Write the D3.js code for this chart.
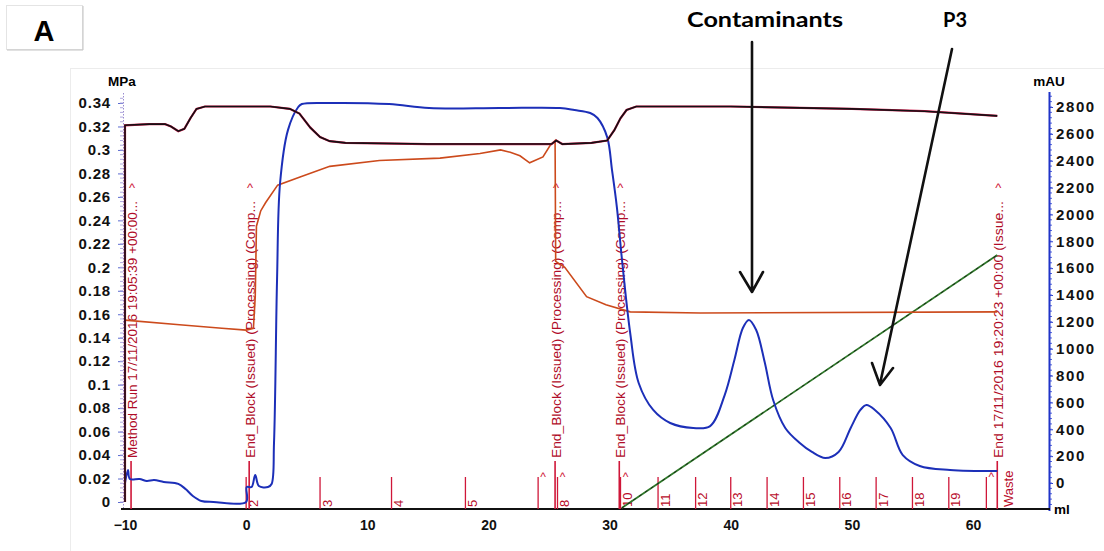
<!DOCTYPE html>
<html>
<head>
<meta charset="utf-8">
<script src="https://cdn.jsdelivr.net/npm/d3@7"></script>
<style>
  body { margin: 0; background: #fff; }
  svg { display: block; font-family: "Liberation Sans", Arial, sans-serif; }
</style>
</head>
<body>
<div id="chart"></div>
<script>
// values (ml, MPa) / (ml, mAU)
const pressure = [[-10, 0], [-10, 0.321], [-8, 0.322], [-6.7, 0.322], [-6.2, 0.320], [-5.6, 0.316],
  [-5.1, 0.318], [-4.6, 0.327], [-4.1, 0.335], [-3.4, 0.337], [0, 0.337], [2, 0.337], [3.6, 0.335],
  [4.4, 0.331], [5.3, 0.319], [6.1, 0.311], [6.9, 0.3075], [8.2, 0.306], [15, 0.305], [25.2, 0.305],
  [25.6, 0.308], [26.1, 0.305], [28.5, 0.306], [29.8, 0.308], [30.4, 0.317], [30.9, 0.327],
  [31.4, 0.334], [32.2, 0.337], [40, 0.337], [50, 0.335], [56, 0.333], [62, 0.329]];

const uv = [[-10, 0], [-9.75, 97], [-9.6, 30], [-8.8, 30], [-8.2, 15], [-7.6, 22], [-6.8, 7],
  [-5.6, -7], [-5.0, -45], [-4.4, -97], [-3.7, -134], [-2.7, -141], [0, -141], [0.05, -30],
  [0.45, -30], [0.75, 60], [1.05, -22], [1.8, -30], [2.1, -7], [2.3, 300], [2.55, 1512], [2.8, 2234],
  [3.45, 2628], [4.3, 2800], [4.6, 2822], [6.9, 2830], [11.8, 2822], [15.1, 2792], [20.9, 2792],
  [25.9, 2792], [27.1, 2777], [28.4, 2755], [29, 2718], [29.8, 2576], [30.2, 2330], [30.6, 2055],
  [31, 1683], [31.7, 1117], [32.4, 745], [33.6, 544], [35, 447], [36.9, 410], [38.3, 424],
  [39.5, 655], [40.3, 916], [41, 1154], [41.5, 1214], [42.1, 1139], [42.8, 901], [43.5, 618],
  [44.5, 410], [45.7, 298], [46.7, 231], [47.8, 186], [48.9, 231], [49.9, 410], [50.7, 544],
  [51.2, 581], [51.9, 544], [53.2, 410], [54.2, 208], [55.6, 127], [58.1, 97], [62, 89]];

// conductivity trace, drawn on the MPa scale as in the print-out
const cond = [[-10, 0.155], [-5.5, 0.151], [-2, 0.148], [0, 0.1465], [0.6, 0.148], [0.75, 0.175],
  [0.85, 0.235], [1.2, 0.248], [1.6, 0.255], [2.6, 0.270], [4.45, 0.277], [6.9, 0.286],
  [11, 0.291], [16, 0.293], [19.3, 0.297], [21, 0.300], [21.8, 0.298], [22.6, 0.295],
  [23.4, 0.289], [24.5, 0.294], [25.1, 0.304], [25.5, 0.308], [25.55, 0.205], [26.3, 0.200],
  [28.1, 0.175], [29.7, 0.168], [31.7, 0.162], [37.5, 0.161], [62, 0.162]];

// gradient line, on the mAU scale
const gradient = [[31, -186], [62, 1698]];

const fracMl = [0, 6.1, 12, 18.1, 24.1, 25.7, 30.9, 34, 37.1, 40, 43, 46, 49, 52, 55, 58, 61.1];
const fracLabels = ["2", "3", "4", "5", "", "8", "10", "11", "12", "13", "14", "15", "16", "17", "18", "19", ""];
const caretMl = [24.1, 25.7, 30.9, 61.1];

const eventMl = [-9.5, 0.25, 25.5, 30.8, 62];
const eventLabels = ["Method Run 17/11/2016 19:05:39 +00:00...",
  "End_Block (Issued) (Processing) (Comp...",
  "End_Block (Issued) (Processing) (Comp...",
  "End_Block (Issued) (Processing) (Comp...",
  "End 17/11/2016 19:20:23 +00:00 (Issue..."];

const xTicks = [-10, 0, 10, 20, 30, 40, 50, 60];
const leftTicks = [0, 0.02, 0.04, 0.06, 0.08, 0.1, 0.12, 0.14, 0.16, 0.18, 0.2, 0.22, 0.24, 0.26, 0.28, 0.3, 0.32, 0.34];
const rightTicks = [0, 200, 400, 600, 800, 1000, 1200, 1400, 1600, 1800, 2000, 2200, 2400, 2600, 2800];

// 1. svg
const width = 1104, height = 551;
const svg = d3.select("#chart").append("svg")
  .attr("width", width)
  .attr("height", height);

// faint frame of the scanned figure and the panel letter
svg.append("rect").attr("x", 70.5).attr("y", 68.5).attr("width", 1040).attr("height", 500)
  .attr("fill", "none").attr("stroke", "#ececec");
svg.append("rect").attr("x", 6.5).attr("y", 5.5).attr("width", 76).attr("height", 44)
  .attr("fill", "#fff").attr("stroke", "#e4e4e4");
svg.append("path").attr("d", "M83,6V50H7").attr("fill", "none").attr("stroke", "#c4c4c4");
svg.append("text").attr("x", 44).attr("y", 41).attr("text-anchor", "middle")
  .attr("font-size", 29).attr("font-weight", "bold").text("A");

// 2. scales
const xScale = d3.scaleLinear().domain([-10, 66.27]).range([125, 1049]);
const yL = d3.scaleLinear().domain([0, 0.34]).range([502, 103]);
const yR = d3.scaleLinear().domain([0, 2800]).range([483, 107]);
const axisY = 509;

// 3. axes
const gl = svg.append("g").attr("transform", "translate(123,0)")
  .call(d3.axisLeft(yL).tickValues(leftTicks).tickSize(5).tickPadding(7)
    .tickFormat(d => String(+d.toFixed(2))));
gl.select(".domain").remove();
gl.selectAll(".tick line").attr("stroke", "#5b6bd0");
gl.selectAll("text").attr("font-size", 15).attr("font-weight", "bold").attr("letter-spacing", 0.8).attr("fill", "#111");
svg.append("line").attr("x1", 123.5).attr("x2", 123.5).attr("y1", 93).attr("y2", axisY)
  .attr("stroke", "#9a8cd0").attr("stroke-dasharray", "1.5,1.5");
svg.append("g").selectAll("line")
  .data(d3.range(0, 0.345, 0.004))
  .enter().append("line")
  .attr("x1", 120).attr("x2", 123)
  .attr("y1", d => yL(d)).attr("y2", d => yL(d))
  .attr("stroke", "#b0a8de");

const gr = svg.append("g").attr("transform", "translate(1049,0)")
  .call(d3.axisRight(yR).tickValues(rightTicks).tickSize(4).tickPadding(3).tickFormat(d3.format("d")));
gr.select(".domain").remove();
gr.selectAll(".tick line").attr("stroke", "#2a3fcf");
gr.selectAll("text").attr("font-size", 15).attr("font-weight", "bold").attr("letter-spacing", 1.6).attr("fill", "#111");
svg.append("g").selectAll("line")
  .data(d3.range(-160, 2900, 40))
  .enter().append("line")
  .attr("x1", 1049).attr("x2", 1052)
  .attr("y1", d => yR(d)).attr("y2", d => yR(d))
  .attr("stroke", "#5566dd");
svg.append("line").attr("x1", 1049.5).attr("x2", 1049.5).attr("y1", 92).attr("y2", 511)
  .attr("stroke", "#1f33c8").attr("stroke-width", 2);

const gb = svg.append("g").attr("transform", `translate(0,${axisY})`)
  .call(d3.axisBottom(xScale).tickValues(xTicks).tickSize(0).tickPadding(11));
gb.select(".domain").remove();
gb.selectAll("text").attr("font-size", 14).attr("font-weight", "bold").attr("fill", "#111");
svg.append("line").attr("x1", 121).attr("x2", 1050).attr("y1", axisY).attr("y2", axisY)
  .attr("stroke", "#111").attr("stroke-width", 2.2);

svg.append("text").attr("x", 122).attr("y", 86).attr("text-anchor", "middle")
  .attr("font-size", 13.5).attr("font-weight", "bold").text("MPa");
svg.append("text").attr("x", 1049).attr("y", 86).attr("text-anchor", "middle")
  .attr("font-size", 13.5).attr("font-weight", "bold").text("mAU");
svg.append("text").attr("x", 1054).attr("y", 514)
  .attr("font-size", 13.5).attr("font-weight", "bold").text("ml");

// 4. fractions and events (red marks)
const red = "#cf1739";
const frac = svg.append("g");
frac.selectAll("line")
  .data(fracMl)
  .enter().append("line")
  .attr("x1", d => xScale(d)).attr("x2", d => xScale(d))
  .attr("y1", 477).attr("y2", axisY)
  .attr("stroke", red).attr("stroke-width", 1.3);
frac.selectAll("text")
  .data(fracMl)
  .enter().append("text")
  .attr("transform", d => `translate(${xScale(d) + 7},507) rotate(-90)`)
  .attr("dominant-baseline", "central")
  .attr("font-size", 13).attr("fill", "#b80c2a")
  .text((d, i) => fracLabels[i]);
frac.append("text")
  .attr("transform", `translate(${xScale(62) + 11},507) rotate(-90)`)
  .attr("dominant-baseline", "central")
  .attr("font-size", 13).attr("fill", "#b80c2a")
  .text("Waste");
frac.selectAll(".caret")
  .data(caretMl)
  .enter().append("text")
  .attr("class", "caret")
  .attr("x", d => xScale(d) + 5).attr("y", 481)
  .attr("text-anchor", "middle").attr("font-size", 12).attr("fill", red)
  .text("^");

const ev = svg.append("g");
ev.selectAll("line")
  .data(eventMl)
  .enter().append("line")
  .attr("x1", d => xScale(d)).attr("x2", d => xScale(d))
  .attr("y1", 461).attr("y2", axisY)
  .attr("stroke", red).attr("stroke-width", 1.6);
ev.selectAll(".evtext")
  .data(eventMl)
  .enter().append("text")
  .attr("class", "evtext")
  .attr("transform", d => `translate(${xScale(d) + 1},458) rotate(-90)`)
  .attr("dominant-baseline", "central")
  .attr("font-size", 13.5).attr("fill", "#b00c28")
  .attr("textLength", 257).attr("lengthAdjust", "spacingAndGlyphs")
  .text((d, i) => eventLabels[i]);
ev.selectAll(".evcaret")
  .data(eventMl)
  .enter().append("text")
  .attr("class", "evcaret")
  .attr("x", d => xScale(d) + 1).attr("y", 192)
  .attr("text-anchor", "middle").attr("font-size", 13).attr("fill", red)
  .text("^");

// 5. traces
const lineL = d3.line().x(d => xScale(d[0])).y(d => yL(d[1]));
const lineR = d3.line().x(d => xScale(d[0])).y(d => yR(d[1]));

svg.append("path").datum(gradient).attr("d", lineR)
  .attr("fill", "none").attr("stroke", "#2f7a2a").attr("stroke-width", 1.8);
svg.append("path").datum(gradient).attr("d", lineR)
  .attr("fill", "none").attr("stroke", "#111").attr("stroke-width", 0.8).attr("stroke-dasharray", "3,4");

svg.append("path").datum(cond).attr("d", lineL)
  .attr("fill", "none").attr("stroke", "#cc4a1c").attr("stroke-width", 1.6);

svg.append("path").datum(uv).attr("d", lineR.curve(d3.curveCatmullRom.alpha(0.5)))
  .attr("fill", "none").attr("stroke", "#1c2fb8").attr("stroke-width", 2);

svg.append("path").datum(pressure).attr("d", lineL)
  .attr("fill", "none").attr("stroke", "#d11a4a").attr("stroke-width", 2.2);
svg.append("path").datum(pressure).attr("d", lineL)
  .attr("fill", "none").attr("stroke", "#141014").attr("stroke-width", 1.6);

// 6. annotations
svg.append("text").attr("x", 765).attr("y", 27).attr("text-anchor", "middle")
  .attr("font-family", "Lato, 'Open Sans', sans-serif").attr("font-size", 20).attr("font-weight", "bold")
  .attr("textLength", 156).attr("lengthAdjust", "spacingAndGlyphs")
  .text("Contaminants");
svg.append("text").attr("x", 955).attr("y", 27).attr("text-anchor", "middle")
  .attr("font-family", "Lato, 'Open Sans', sans-serif").attr("font-size", 20).attr("font-weight", "bold")
  .text("P3");

const arrows = svg.append("g").attr("fill", "none").attr("stroke", "#111")
  .attr("stroke-width", 2.6).attr("stroke-linecap", "round").attr("stroke-linejoin", "round");
arrows.append("path").attr("d", "M752,42V291M740,272L752,292L763,272");
arrows.append("path").attr("d", "M952,49L880,384M872,363L880,385L893,368");
</script>
</body>
</html>
